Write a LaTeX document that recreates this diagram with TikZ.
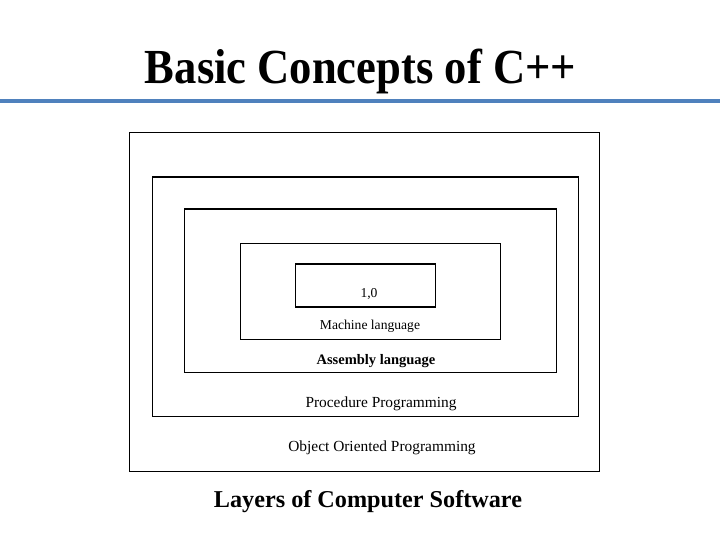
\documentclass[tikz,border=0pt]{standalone}
\usepackage{fontspec}
\setmainfont{Liberation Serif}
\definecolor{slideblue}{RGB}{79,129,189}
\tikzset{
	layer/.style = {draw, line width=1bp, inner sep=0pt},
	layertop/.style = {line width=2.4bp},
	layertext/.style = {anchor=base, inner sep=0pt,
		font=\fontsize{15.4bp}{18bp}\selectfont},
}
\begin{document}
\begin{tikzpicture}[x=1bp, y=-1bp]
		\useasboundingbox (0, 0) rectangle (720, 540);
		\path (360.5, 84) node (Title) [anchor=base, inner sep=0pt, xscale=0.91,
			font=\fontsize{49bp}{54bp}\selectfont\bfseries]
				{Basic Concepts of C++};
		\path (0, 101.5) coordinate (RuleL) (720, 101.5) coordinate (RuleR);
		\draw [slideblue, line width=4bp] (RuleL) -- (RuleR);

		% nested layers, outermost first
		\path (364.5, 302) node (OOP)  [layer, minimum width=471, minimum height=340] {};
		\path (365.5, 297) node (Proc) [layer, minimum width=427, minimum height=240] {};
		\path (370.5, 291) node (Asm)  [layer, minimum width=373, minimum height=164] {};
		\path (370.5, 291.5) node (Mach) [layer, line width=1.2bp,
			minimum width=261, minimum height=97] {};
		\path (365.5, 285.5) node (Bits) [layer, line width=1.2bp,
			minimum width=141, minimum height=43] {};
		\draw [layertop] (Proc.north west) -- (Proc.north east);
		\draw [layertop] (Asm.north west)  -- (Asm.north east);

		\path (369, 297) node (BitsText) [layertext,
			font=\fontsize{13.6bp}{16bp}\selectfont] {1,0};
		\path (370, 329) node (MachText) [layertext,
			font=\fontsize{13.6bp}{16bp}\selectfont] {Machine language};
		\path (376, 364) node (AsmText) [layertext,
			font=\fontsize{14.5bp}{17bp}\selectfont\bfseries] {Assembly language};
		\path (381, 407) node (ProcText) [layertext] {Procedure Programming};
		\path (382, 451) node (OOPText)  [layertext] {Object Oriented Programming};

		\path (368, 507) node (Caption) [anchor=base, inner sep=0pt,
			font=\fontsize{24.2bp}{28bp}\selectfont\bfseries]
				{Layers of Computer Software};
	\end{tikzpicture}
\end{document}
